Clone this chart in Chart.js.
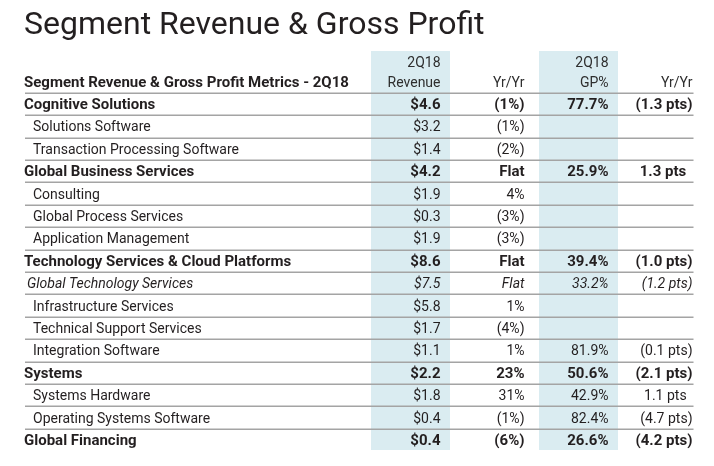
<!DOCTYPE html>
<html lang="en">
<head>
<meta charset="UTF-8">
<title>Segment Revenue &amp; Gross Profit</title>
<script src="https://cdn.jsdelivr.net/npm/chart.js"></script>
<style>
  body { margin: 0; background: #ffffff; }
  canvas { display: block; }
</style>
</head>
<body>
<canvas id="tableChart" width="714" height="466"></canvas>
<script>
// table contents
const titleText = "Segment Revenue & Gross Profit";
const tableHeading = "Segment Revenue & Gross Profit Metrics - 2Q18";
const headerTop = ["2Q18", "", "2Q18", ""];
const headerBottom = ["Revenue", "Yr/Yr", "GP%", "Yr/Yr"];

const rowLabels = [
    "Cognitive Solutions", "Solutions Software", "Transaction Processing Software",
    "Global Business Services", "Consulting", "Global Process Services", "Application Management",
    "Technology Services & Cloud Platforms", "Global Technology Services", "Infrastructure Services",
    "Technical Support Services", "Integration Software",
    "Systems", "Systems Hardware", "Operating Systems Software",
    "Global Financing"
];
// 0 = segment (bold), 1 = sub line, 2 = italic sub total
const rowLevel = [0, 1, 1, 0, 1, 1, 1, 0, 2, 1, 1, 1, 0, 1, 1, 0];

const revenue = [4.6, 3.2, 1.4, 4.2, 1.9, 0.3, 1.9, 8.6, 7.5, 5.8, 1.7, 1.1, 2.2, 1.8, 0.4, 0.4];
const revenueYrYr = ["(1%)", "(1%)", "(2%)", "Flat", "4%", "(3%)", "(3%)", "Flat", "Flat", "1%", "(4%)", "1%", "23%", "31%", "(1%)", "(6%)"];
const gpPct = [77.7, null, null, 25.9, null, null, null, 39.4, 33.2, null, null, 81.9, 50.6, 42.9, 82.4, 26.6];
const gpYrYr = ["(1.3 pts)", "", "", "1.3 pts", "", "", "", "(1.0 pts)", "(1.2 pts)", "", "", "(0.1 pts)", "(2.1 pts)", "1.1 pts", "(4.7 pts)", "(4.2 pts)"];

// shaded columns (Revenue and GP%), spanning header to last row
const shadedColumns = [0, 2];
const shadeSpan = [-2.37, 15.45];

const FONT = "Roboto, 'Noto Sans', sans-serif";
const INK = "#231f20";

function cellText(row, col) {
    if (col == 0) return "$" + revenue[row].toFixed(1);
    if (col == 1) return revenueYrYr[row];
    if (col == 2) return gpPct[row] == null ? "" : gpPct[row].toFixed(1) + "%";
    return gpYrYr[row];
}

function fontFor(level) {
    if (level == 0) return "bold 15px " + FONT;
    if (level == 2) return "italic 14px " + FONT;
    return "14px " + FONT;
}

const tablePlugin = {
    id: "tablePlugin",
    afterDatasetsDraw(chart) {
        const ctx = chart.ctx;
        const x = chart.scales.x;
        const y = chart.scales.y;
        const band = x.width / headerBottom.length;
        const colRight = c => x.getPixelForValue(c) + band / 2 - 12;
        const rowMid = v => y.getPixelForValue(v) + 1.5;
        const left = 24;
        const lineEnd = colRight(headerBottom.length - 1) + 1;

        ctx.save();
        // title
        ctx.fillStyle = INK;
        ctx.textBaseline = "alphabetic";
        ctx.textAlign = "left";
        ctx.font = "32px " + FONT;
        ctx.fillText(titleText, left, 34);

        // row separators
        ctx.strokeStyle = "#a4a4a4";
        ctx.lineWidth = 1.5;
        for (let i = -1; i < rowLabels.length - 1; i++) {
            const py = Math.round(y.getPixelForValue(i + 0.5)) + 0.25;
            ctx.beginPath();
            ctx.moveTo(left + 1, py);
            ctx.lineTo(lineEnd, py);
            ctx.stroke();
        }

        ctx.textBaseline = "middle";
        // header
        ctx.font = "bold 15px " + FONT;
        ctx.fillText(tableHeading, left, rowMid(-0.98));
        ctx.font = "14px " + FONT;
        ctx.fillStyle = "#2e2e2e";
        ctx.textAlign = "right";
        headerBottom.forEach((h, c) => {
            ctx.fillText(headerTop[c], colRight(c), rowMid(-1.88));
            ctx.fillText(h, colRight(c), rowMid(-0.98));
        });

        // body
        ctx.fillStyle = INK;
        rowLabels.forEach((label, i) => {
            const py = rowMid(i);
            const lvl = rowLevel[i];
            ctx.font = fontFor(lvl);
            ctx.textAlign = "left";
            ctx.fillText(label, lvl == 0 ? left : (lvl == 2 ? left + 3 : left + 9), py);
            ctx.textAlign = "right";
            for (let c = 0; c < headerBottom.length; c++) {
                const t = cellText(i, c);
                if (!t) continue;
                let rx = colRight(c);
                // pts values without brackets sit in from the edge
                if (c == 3 && t.slice(-1) != ")") rx -= ctx.measureText(")").width + 1;
                ctx.fillText(t, rx, py);
            }
        });
        ctx.restore();
    }
};

new Chart(document.getElementById("tableChart"), {
    type: "bar",
    data: {
        labels: headerBottom,
        datasets: [{
            label: "shade",
            data: headerBottom.map((h, c) => shadedColumns.includes(c) ? shadeSpan : null),
            backgroundColor: "#daecf1",
            borderWidth: 0,
            barPercentage: 0.94,
            categoryPercentage: 1
        }]
    },
    options: {
        responsive: false,
        animation: false,
        layout: { padding: { left: 368.5, right: 9.5, top: 36.8, bottom: 3.6 } },
        plugins: { legend: { display: false }, tooltip: { enabled: false } },
        scales: {
            x: { type: "category", display: false },
            y: { type: "linear", display: false, reverse: true, min: -3, max: 16 }
        }
    },
    plugins: [tablePlugin]
});
</script>
</body>
</html>
